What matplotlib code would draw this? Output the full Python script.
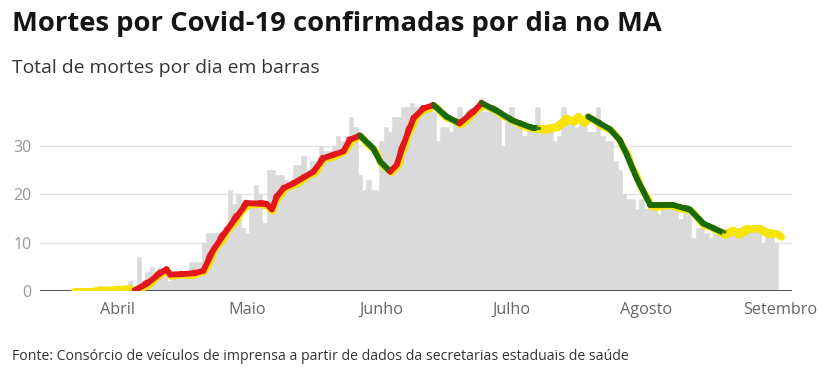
import numpy as np
import matplotlib.pyplot as plt
import pandas as pd

# Dia 0 = 1 de abril de 2020
INICIO = pd.Timestamp("2020-04-01")

# Mortes por dia (barras), a partir de 22 de marco (dia -10)
primeiro_dia = -10
mortes = [0, 0, 0, 0, 0, 0, 1, 0, 0, 0,
          0, 0, 1, 2, 1, 7, 2, 4, 5, 4,
          5, 4, 2, 3, 4, 3, 4, 6, 6, 6,
          10, 12, 12, 12, 12, 13, 21, 18, 20, 13,
          12, 18, 22, 20, 14, 25, 25, 24, 24, 23,
          22, 26, 26, 28, 25, 27, 27, 30, 29, 29,
          30, 32, 31, 32, 36, 34, 24, 21, 23, 21,
          21, 31, 34, 33, 36, 36, 38, 38, 39, 38,
          38, 38, 38, 37, 31, 34, 34, 33, 35, 38,
          36, 37, 37, 38, 40, 37, 37, 37, 36, 30,
          35, 38, 34, 35, 32, 34, 34, 38, 33, 34,
          34, 31, 32, 38, 36, 36, 34, 36, 36, 33,
          33, 38, 32, 31, 31, 27, 25, 20, 19, 19,
          17, 19, 17, 18, 17, 16, 18, 17, 17, 17,
          15, 17, 16, 11, 13, 13, 12, 11, 12, 12,
          12, 12, 12, 13, 12, 13, 13, 13, 13, 10,
          12, 12, 10]

# Media movel (linha): dia, valor e tendencia do trecho que chega ao ponto
# e = estavel (amarelo), s = subida (vermelho), q = queda (verde)
media_dias = [-10, -5, 0, 3, 4, 7, 10, 11.4, 12.2, 15, 18, 19.9, 22.2, 25.3, 27.6, 29.9,
              34.5, 35.7, 36.8, 38.4, 40.7, 43, 45.3, 47.6, 49.9, 52.2, 53.7, 56,
              59.1, 60.7, 63, 64.5, 66, 68.4, 70.7, 73, 76, 79, 82.2, 84.1,
              88, 91, 93, 96, 97.4, 99.1, 101.4, 103.7, 105.2, 106.4, 107.6, 108.7,
              111.4, 113.7, 116, 117.6, 119.9, 123, 128.3, 132.2, 135.2, 137.6, 140.3,
              142.2, 143.2, 145.3, 148.3, 149.9, 152.2, 153]
media_valores = [0.1, 0.1, 0.3, 0.5, 0.1, 1.6, 3.7, 4.5, 3.4, 3.5, 3.7, 4.2, 8.5, 12.6, 15.4, 18.2,
                 18.0, 16.9, 19.5, 21.3, 22.3, 23.5, 24.7, 27.5, 28.2, 28.9, 31.3, 32.2,
                 29.5, 26.8, 24.7, 26.1, 30.2, 35.8, 37.8, 38.5, 36.1, 34.7, 37.1, 38.9,
                 37.1, 35.4, 34.7, 33.7, 33.7, 33.7, 34.0, 35.8, 35.1, 36.1, 35.1, 36.1,
                 34.7, 33.5, 31.2, 28.2, 23.3, 17.8, 17.8, 16.8, 14.0, 13.0, 11.9,
                 12.6, 11.9, 13.0, 13.0, 12.2, 11.9, 11.4]
tendencia = ["e", "e", "e", "e", "e", "s", "s", "s", "s", "s", "s", "s", "s", "s", "s", "s",
             "s", "s", "s", "s", "s", "s", "s", "s", "s", "s", "s", "s",
             "q", "q", "q", "s", "s", "s", "s", "s", "q", "q", "s", "s",
             "q", "q", "q", "q", "q", "e", "e", "e", "e", "e", "e", "e",
             "q", "q", "q", "q", "q", "q", "q", "q", "q", "q", "q",
             "e", "e", "e", "e", "e", "e", "e"]

meses = ["Abril", "Maio", "Junho", "Julho", "Agosto", "Setembro"]
inicio_meses = ["2020-04-01", "2020-05-01", "2020-06-01", "2020-07-01", "2020-08-01", "2020-09-01"]

CORES = {"e": "#f7e400", "s": "#e3161b", "q": "#1c6a06"}

plt.rcParams['font.family'] = ['Open Sans', 'DejaVu Sans']

fig = plt.figure(figsize=(8.33, 3.8), dpi=100)
ax = fig.add_axes([40 / 833, 1 - 291 / 380, 752 / 833, 193.2 / 380])

# Barras
dias = np.arange(primeiro_dia, primeiro_dia + len(mortes))
ax.bar(dias, mortes, width=1.0, color="#dadada", edgecolor="#dadada", linewidth=0.4, zorder=1)

# Grade
for v in [10, 20, 30]:
    ax.axhline(v, color="#e2e2e2", lw=1, zorder=0.5)
ax.axhline(0, color="#333333", lw=1.2, zorder=2)

# Linha amarela por baixo de tudo (efeito desenhado a mao)
x = np.array(media_dias)
y = np.array(media_valores)
base, = ax.plot(x + 0.25, y - 0.3, color=CORES["e"], lw=5, solid_capstyle="round",
                solid_joinstyle="round", zorder=3)
base.set_sketch_params(0.6, 25, 2)

# Trechos coloridos
for i in range(1, len(x)):
    t = tendencia[i]
    xs = x[i - 1:i + 1]
    ys = y[i - 1:i + 1]
    if t == "e":
        l, = ax.plot(xs, ys, color=CORES[t], lw=5, solid_capstyle="round", zorder=4)
    else:
        l, = ax.plot(xs, ys, color=CORES[t], lw=4.2, solid_capstyle="round", zorder=4)
        l2, = ax.plot(xs - 0.15, ys + 0.25, color=CORES[t], lw=2.5, alpha=0.85,
                      solid_capstyle="round", zorder=5)
        l2.set_sketch_params(0.9, 20, 2)

ax.set_xlim(-17.8, 155.7)
ax.set_ylim(0, 40)

for s in ax.spines.values():
    s.set_visible(False)

ax.set_yticks([0, 10, 20, 30])
ax.tick_params(axis="y", length=0, pad=6, labelsize=11.5, labelcolor="#999999")
posicoes = [(pd.Timestamp(m) - INICIO).days for m in inicio_meses]
ax.set_xticks(posicoes)
ax.set_xticklabels(meses)
ax.tick_params(axis="x", length=0, pad=8, labelsize=11.7, labelcolor="#666666")

fig.text(12 / 833, 1 - 24 / 380, "Mortes por Covid-19 confirmadas por dia no MA",
         fontsize=19.7, fontweight="bold", color="#151515", va="center")
fig.text(12 / 833, 1 - 68 / 380, "Total de mortes por dia em barras",
         fontsize=13.9, color="#333333", va="center")
fig.text(12 / 833, 1 - 357 / 380,
         "Fonte: Consórcio de veículos de imprensa a partir de dados da secretarias estaduais de saúde",
         fontsize=10.2, color="#333333", va="center")

fig.savefig("out.png", dpi=100)
